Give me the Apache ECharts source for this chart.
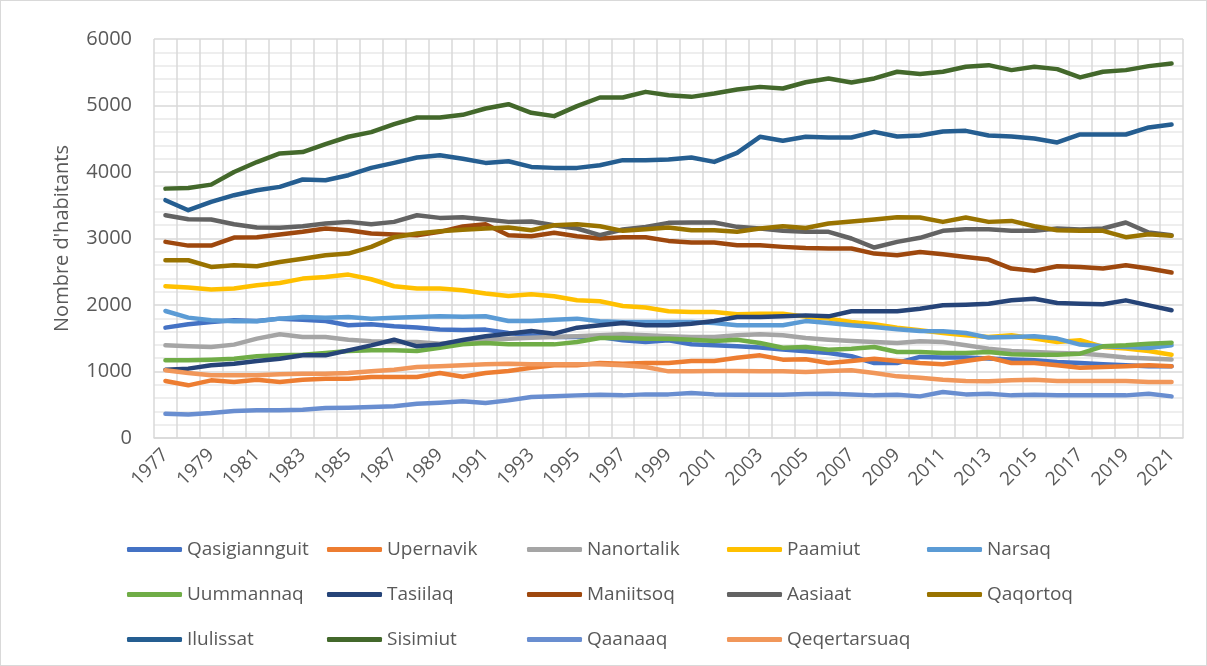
<!DOCTYPE html>
<html>
<head>
<meta charset="utf-8">
<script src="https://cdn.jsdelivr.net/npm/echarts@6/dist/echarts.min.js"></script>
<style>
  html, body { margin: 0; padding: 0; background: #fff; }
  #chart { width: 1205px; height: 664px; border: 1px solid #d9d9d9; }
</style>
</head>
<body>
<div id="chart"></div>
<script>
// years on the category axis
const years = [];
for (let y = 1977; y <= 2021; y++) years.push(String(y));

const yTicks = [0, 1000, 2000, 3000, 4000, 5000, 6000];

// population per town, 1977 -> 2021
const qasigiannguit = [1660,1710,1745,1770,1760,1795,1780,1760,1695,1710,1680,1660,1630,1625,1630,1580,1545,1520,1520,1520,1470,1445,1470,1410,1395,1380,1360,1329,1305,1279,1229,1128,1128,1219,1209,1209,1194,1179,1169,1144,1128,1108,1093,1078,1078];
const upernavik = [857,792,867,842,877,842,877,892,892,917,917,917,977,922,977,1007,1057,1093,1093,1128,1118,1128,1128,1158,1158,1208,1243,1178,1185,1128,1158,1193,1158,1128,1108,1158,1208,1128,1128,1093,1057,1067,1078,1093,1078];
const nanortalik = [1394,1379,1369,1404,1494,1559,1519,1519,1479,1454,1444,1444,1419,1450,1479,1494,1509,1519,1529,1544,1559,1544,1529,1519,1519,1544,1559,1544,1505,1479,1459,1444,1429,1454,1444,1394,1344,1309,1294,1279,1269,1244,1209,1194,1179];
const paamiut = [2282,2262,2232,2247,2297,2332,2397,2422,2457,2387,2282,2247,2247,2222,2172,2137,2162,2132,2071,2056,1986,1961,1905,1895,1895,1860,1870,1870,1825,1795,1745,1710,1660,1620,1580,1545,1520,1545,1495,1445,1470,1369,1344,1309,1253];
const narsaq = [1910,1810,1770,1755,1755,1795,1820,1810,1820,1795,1810,1820,1830,1825,1830,1760,1760,1780,1795,1755,1745,1745,1745,1745,1730,1695,1695,1695,1758,1730,1695,1670,1635,1610,1605,1580,1510,1520,1530,1495,1405,1380,1369,1354,1395];
const uummannaq = [1168,1168,1178,1193,1228,1243,1253,1278,1308,1318,1318,1308,1358,1408,1428,1408,1408,1408,1443,1503,1503,1493,1493,1478,1458,1478,1428,1358,1368,1328,1343,1368,1293,1293,1278,1278,1293,1258,1253,1253,1268,1378,1393,1418,1433];
const tasiilaq = [1028,1043,1093,1118,1158,1193,1243,1243,1318,1393,1478,1378,1408,1473,1529,1569,1609,1569,1659,1694,1729,1694,1694,1719,1759,1819,1819,1829,1844,1829,1905,1905,1905,1945,1995,2005,2020,2070,2095,2030,2020,2010,2070,1995,1920];
const maniitsoq = [2949,2893,2893,3014,3020,3060,3100,3150,3125,3075,3060,3050,3100,3180,3215,3050,3035,3085,3035,3000,3020,3020,2964,2939,2939,2899,2899,2874,2856,2849,2849,2773,2748,2798,2763,2723,2683,2548,2513,2583,2573,2548,2598,2548,2488];
const aasiaat = [3350,3290,3285,3215,3165,3160,3185,3225,3250,3215,3250,3350,3310,3318,3285,3250,3255,3200,3150,3050,3135,3175,3235,3240,3240,3175,3150,3115,3100,3100,3000,2864,2949,3010,3115,3140,3140,3115,3115,3150,3135,3150,3240,3090,3050];
const qaqortoq = [2673,2673,2572,2597,2582,2647,2697,2748,2773,2874,3020,3075,3110,3130,3150,3165,3125,3200,3215,3185,3115,3140,3165,3125,3125,3100,3150,3185,3158,3225,3255,3285,3320,3315,3250,3315,3250,3265,3185,3125,3115,3115,3020,3065,3040];
const ilulissat = [3576,3425,3550,3651,3726,3776,3887,3877,3952,4062,4137,4218,4253,4200,4137,4162,4077,4062,4062,4102,4178,4178,4188,4218,4152,4288,4529,4469,4530,4519,4519,4604,4534,4549,4609,4619,4549,4534,4504,4444,4564,4564,4564,4670,4715];
const sisimiut = [3750,3760,3810,4000,4150,4280,4300,4420,4530,4600,4720,4820,4820,4860,4955,5020,4890,4840,4990,5120,5120,5205,5155,5130,5180,5240,5280,5255,5350,5405,5346,5407,5507,5472,5507,5582,5607,5532,5582,5547,5422,5507,5532,5592,5632];
const qaanaaq = [365,355,375,406,416,416,426,451,456,466,476,516,531,553,526,566,616,626,641,651,641,656,656,676,656,651,651,651,661,666,656,641,651,626,691,656,666,641,651,641,641,641,641,666,626];
const qeqertarsuaq = [1018,977,942,942,942,957,967,967,977,1002,1027,1068,1078,1093,1108,1118,1108,1108,1108,1108,1093,1068,1002,1002,1007,1007,1002,1002,992,1007,1018,977,927,907,877,857,852,867,877,857,857,857,857,842,842];

const towns = [
  ['Qasigiannguit', qasigiannguit, '#4472C4'],
  ['Upernavik', upernavik, '#ED7D31'],
  ['Nanortalik', nanortalik, '#A5A5A5'],
  ['Paamiut', paamiut, '#FFC000'],
  ['Narsaq', narsaq, '#5B9BD5'],
  ['Uummannaq', uummannaq, '#70AD47'],
  ['Tasiilaq', tasiilaq, '#264478'],
  ['Maniitsoq', maniitsoq, '#9E480E'],
  ['Aasiaat', aasiaat, '#636363'],
  ['Qaqortoq', qaqortoq, '#997300'],
  ['Ilulissat', ilulissat, '#255E91'],
  ['Sisimiut', sisimiut, '#43682B'],
  ['Qaanaaq', qaanaaq, '#698ED0'],
  ['Qeqertarsuaq', qeqertarsuaq, '#F1975A']
];

const chart = echarts.init(document.getElementById('chart'));
const font = '"Open Sans", "Noto Sans", sans-serif';

const option = {
  animation: false,
  color: towns.map(t => t[2]),
  grid: { left: 153, right: 23, top: 38, bottom: 227, containLabel: false },
  legend: {
    left: 121,
    top: 521,
    width: 1005,
    itemGap: 0,
    itemWidth: 55,
    itemHeight: 5,
    icon: 'roundRect',
    textStyle: { fontFamily: font, fontSize: 19, color: '#595959', width: 140, height: 45, lineHeight: 45 },
    data: towns.map(t => t[0])
  },
  xAxis: {
    type: 'category',
    data: years,
    boundaryGap: true,
    axisLine: { lineStyle: { color: '#d9d9d9', width: 1.5 } },
    axisTick: { show: false, interval: 0 },
    axisLabel: { interval: 1, rotate: 45, margin: 14, fontFamily: font, fontSize: 19, color: '#595959' },
    splitLine: { show: true, interval: 0, lineStyle: { color: '#d9d9d9', width: 1.5 } }
  },
  yAxis: {
    type: 'value',
    min: yTicks[0],
    max: yTicks[yTicks.length - 1],
    interval: 1000,
    name: "Nombre d'habitants",
    nameLocation: 'middle',
    nameGap: 82,
    nameTextStyle: { fontFamily: font, fontSize: 20, color: '#595959' },
    axisLine: { show: false },
    axisTick: { show: false },
    axisLabel: { margin: 22, fontFamily: font, fontSize: 20, color: '#595959', formatter: v => String(v) },
    splitLine: { lineStyle: { color: '#d9d9d9', width: 1.5 } },
    minorTick: { show: false, splitNumber: 5 },
    minorSplitLine: { show: true, lineStyle: { color: '#e9e9e9', width: 1.5 } }
  },
  series: towns.map(t => ({
    name: t[0],
    type: 'line',
    data: t[1],
    showSymbol: false,
    symbol: 'none',
    lineStyle: { width: 4.5, cap: 'round', join: 'round' }
  }))
};

chart.setOption(option);
</script>
</body>
</html>
